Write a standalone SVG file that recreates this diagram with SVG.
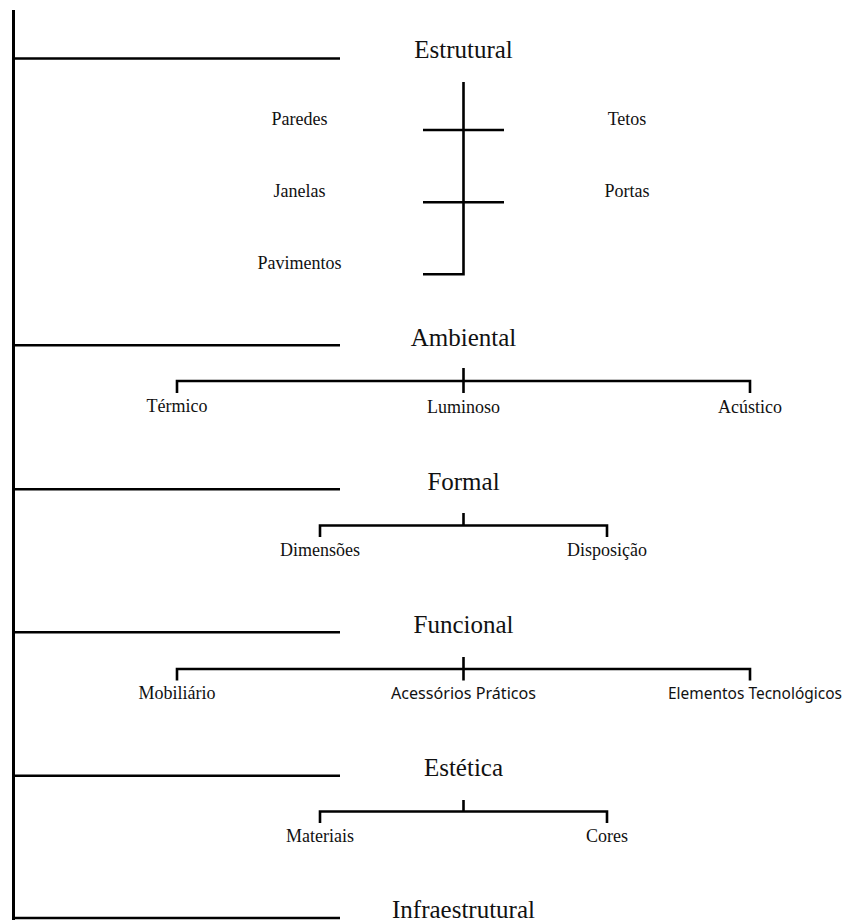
<svg xmlns="http://www.w3.org/2000/svg" width="846" height="922" viewBox="0 0 846 922">
<style>
.ln{stroke:#000;stroke-width:2.6;fill:none;stroke-linecap:butt}
.main{stroke:#000;stroke-width:3;fill:none}
.h{font-family:"Liberation Serif","Times New Roman",serif;font-size:25px;text-anchor:middle;fill:#111}
.s{font-family:"Liberation Serif","Times New Roman",serif;font-size:18px;text-anchor:middle;fill:#111}
.ss{font-family:"Noto Sans","DejaVu Sans",sans-serif;font-size:15.5px;text-anchor:middle;fill:#111}
</style>
<rect width="846" height="922" fill="#fff"/>
<g id="connectors">
<line class="main" x1="13.5" y1="10" x2="13.5" y2="920"/>
<line class="ln" x1="13" y1="58.5" x2="340" y2="58.5"/>
<line class="ln" x1="13" y1="345.3" x2="340" y2="345.3"/>
<line class="ln" x1="13" y1="489.3" x2="340" y2="489.3"/>
<line class="ln" x1="13" y1="632.3" x2="340" y2="632.3"/>
<line class="ln" x1="13" y1="775.7" x2="340" y2="775.7"/>
<line class="ln" x1="13" y1="918" x2="340" y2="918"/>
<path class="ln" d="M463.5 82 V274.3 H423"/>
<line class="ln" x1="423" y1="130" x2="504" y2="130"/>
<line class="ln" x1="423" y1="202.3" x2="504" y2="202.3"/>
<path class="ln" d="M177 393 V381 H750 V393"/>
<line class="ln" x1="463.5" y1="368" x2="463.5" y2="393"/>
<path class="ln" d="M320 537 V525.5 H607 V537"/>
<line class="ln" x1="463.5" y1="513" x2="463.5" y2="525.5"/>
<path class="ln" d="M177 680.5 V669 H750 V680.5"/>
<line class="ln" x1="463.5" y1="657" x2="463.5" y2="680.5"/>
<path class="ln" d="M320 823 V811.5 H607 V823"/>
<line class="ln" x1="463.5" y1="800" x2="463.5" y2="811.5"/>
</g>
<g id="estrutural"><text class="h" x="463.5" y="58">Estrutural</text></g>
<g id="paredes"><text class="s" x="299.5" y="125">Paredes</text></g>
<g id="tetos"><text class="s" x="627" y="124.5">Tetos</text></g>
<g id="janelas"><text class="s" x="299.5" y="197">Janelas</text></g>
<g id="portas"><text class="s" x="627" y="197">Portas</text></g>
<g id="pavimentos"><text class="s" x="299.5" y="269">Pavimentos</text></g>
<g id="ambiental"><text class="h" x="463.5" y="346">Ambiental</text></g>
<g id="termico"><text class="s" x="177" y="412">Térmico</text></g>
<g id="luminoso"><text class="s" x="463.5" y="413">Luminoso</text></g>
<g id="acustico"><text class="s" x="750" y="413">Acústico</text></g>
<g id="formal"><text class="h" x="463.5" y="489.5">Formal</text></g>
<g id="dimensoes"><text class="s" x="320" y="556">Dimensões</text></g>
<g id="disposicao"><text class="s" x="607" y="556">Disposição</text></g>
<g id="funcional"><text class="h" x="463.5" y="632.5">Funcional</text></g>
<g id="mobiliario"><text class="s" x="177" y="699">Mobiliário</text></g>
<g id="acessorios"><text class="ss" x="463.5" y="699" textLength="145" lengthAdjust="spacingAndGlyphs">Acessórios Práticos</text></g>
<g id="elementos"><text class="ss" x="755" y="699" textLength="174" lengthAdjust="spacingAndGlyphs">Elementos Tecnológicos</text></g>
<g id="estetica"><text class="h" x="463.5" y="776">Estética</text></g>
<g id="materiais"><text class="s" x="320" y="842">Materiais</text></g>
<g id="cores"><text class="s" x="607" y="842">Cores</text></g>
<g id="infraestrutural"><text class="h" x="463.5" y="918">Infraestrutural</text></g>
</svg>
